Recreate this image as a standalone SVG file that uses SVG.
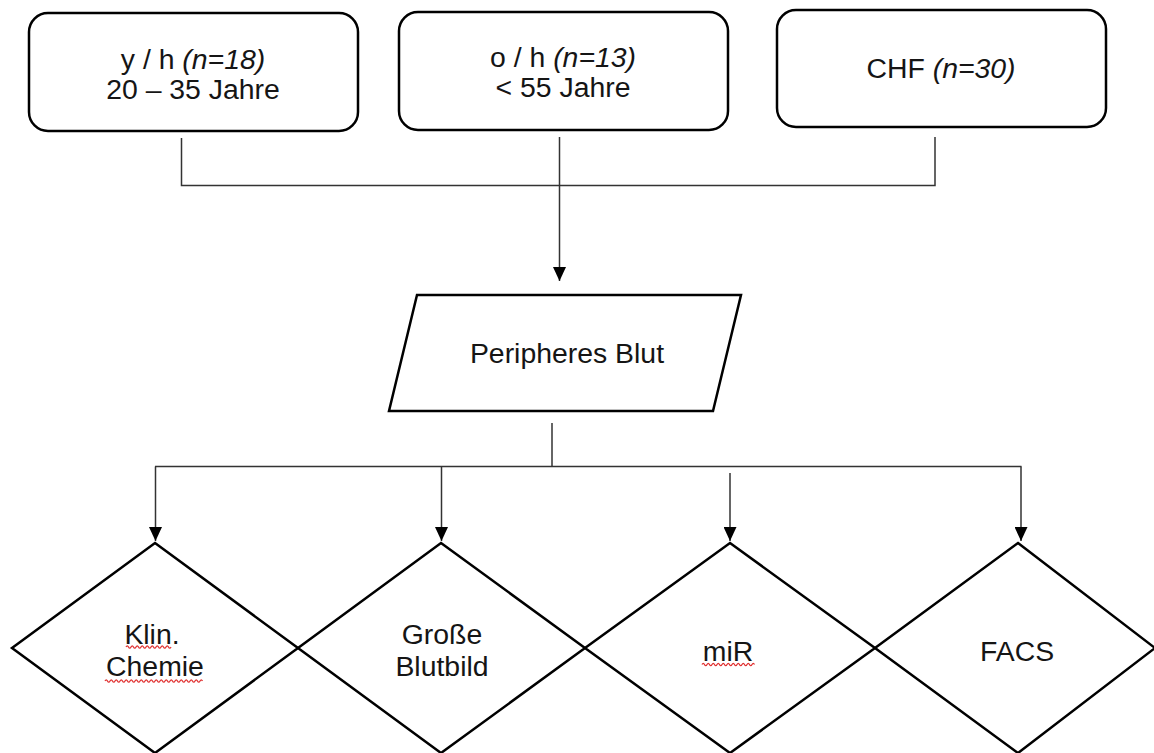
<svg xmlns="http://www.w3.org/2000/svg" width="1154" height="753" viewBox="0 0 1154 753">
<style>
.shape{fill:#ffffff;stroke:#000000;stroke-width:2.5;stroke-linejoin:miter}
.conn{fill:none;stroke:#333333;stroke-width:1.5}
.t{font-family:"Liberation Sans",Arial,sans-serif;font-size:28.4px;fill:#151515;text-anchor:middle}
.i{font-style:italic}
.sq{fill:none;stroke:#e03030;stroke-width:1.3}
</style>
<defs>
<marker id="arr" viewBox="0 0 14 13" refX="14" refY="6.5" markerWidth="14" markerHeight="13" markerUnits="userSpaceOnUse" orient="auto">
<path d="M0,0 L14,6.5 L0,13 z" fill="#000000"/>
</marker>
</defs>
<rect width="1154" height="753" fill="#ffffff"/>

<g id="connectors">
<path class="conn" d="M181.5,138 V185.5 H935 V137"/>
<path class="conn" d="M559.5,137 V281" marker-end="url(#arr)"/>
<path class="conn" d="M552,423 V466.5"/>
<path class="conn" d="M155,466.5 H1021.5"/>
<path class="conn" d="M155.5,466.5 V541" marker-end="url(#arr)"/>
<path class="conn" d="M441.5,466.5 V541" marker-end="url(#arr)"/>
<path class="conn" d="M730,473 V541" marker-end="url(#arr)"/>
<path class="conn" d="M1021,466.5 V541" marker-end="url(#arr)"/>
</g>

<g id="node-yh">
<rect class="shape" x="29" y="13" width="329" height="118" rx="19"/>
<text class="t"><tspan x="193" y="69">y / h <tspan class="i">(n=18)</tspan></tspan><tspan x="193" y="99">20 – 35 Jahre</tspan></text>
</g>

<g id="node-oh">
<rect class="shape" x="399" y="12" width="329" height="118" rx="19"/>
<text class="t"><tspan x="563" y="67">o / h <tspan class="i">(n=13)</tspan></tspan><tspan x="563" y="97">&lt; 55 Jahre</tspan></text>
</g>

<g id="node-chf">
<rect class="shape" x="777" y="10" width="329" height="117" rx="19"/>
<text class="t" x="941" y="78">CHF <tspan class="i">(n=30)</tspan></text>
</g>

<g id="node-blut">
<polygon class="shape" points="417,295 741,295 713,411 389,411"/>
<text class="t" x="567" y="363">Peripheres Blut</text>
</g>

<g id="node-klin">
<polygon class="shape" points="155,543 298,648 155,753 12,648"/>
<text class="t"><tspan x="152" y="644">Klin.</tspan><tspan x="155" y="676">Chemie</tspan></text>
<path class="sq" d="M126,647 q1.25,-2.4 2.5,0 t2.5,0 t2.5,0 t2.5,0 t2.5,0 t2.5,0 t2.5,0 t2.5,0 t2.5,0 t2.5,0 t2.5,0 t2.5,0 t2.5,0 t2.5,0 t2.5,0 t2.5,0 t2.5,0 t2.5,0"/>
<path class="sq" d="M105,681 q1.25,-2.4 2.5,0 t2.5,0 t2.5,0 t2.5,0 t2.5,0 t2.5,0 t2.5,0 t2.5,0 t2.5,0 t2.5,0 t2.5,0 t2.5,0 t2.5,0 t2.5,0 t2.5,0 t2.5,0 t2.5,0 t2.5,0 t2.5,0 t2.5,0 t2.5,0 t2.5,0 t2.5,0 t2.5,0 t2.5,0 t2.5,0 t2.5,0 t2.5,0 t2.5,0 t2.5,0 t2.5,0 t2.5,0 t2.5,0 t2.5,0 t2.5,0 t2.5,0 t2.5,0 t2.5,0 t2.5,0"/>
</g>

<g id="node-blutbild">
<polygon class="shape" points="441,543 585,648 441,753 298,648"/>
<text class="t"><tspan x="442" y="644">Große</tspan><tspan x="442" y="676">Blutbild</tspan></text>
</g>

<g id="node-mir">
<polygon class="shape" points="730,543 875,648 730,753 585,648"/>
<text class="t" x="728" y="661">miR</text>
<path class="sq" d="M702,664.5 q1.25,-2.4 2.5,0 t2.5,0 t2.5,0 t2.5,0 t2.5,0 t2.5,0 t2.5,0 t2.5,0 t2.5,0 t2.5,0 t2.5,0 t2.5,0 t2.5,0 t2.5,0 t2.5,0 t2.5,0 t2.5,0 t2.5,0 t2.5,0 t2.5,0 t2.5,0"/>
</g>

<g id="node-facs">
<polygon class="shape" points="1018,543 1155,648 1018,753 875,648"/>
<text class="t" x="1017" y="661">FACS</text>
</g>
</svg>
